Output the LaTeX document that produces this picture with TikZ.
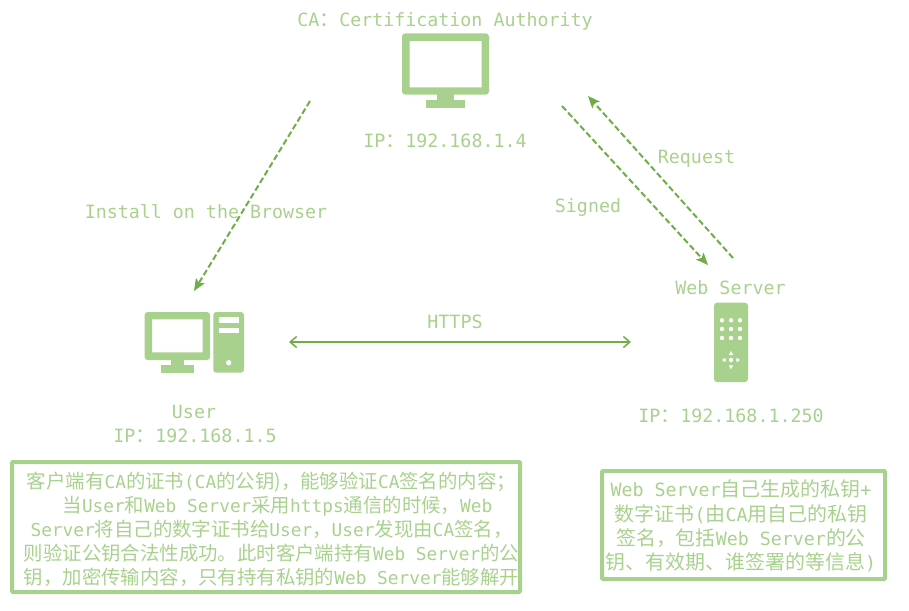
\documentclass[tikz,border=0pt]{standalone}
\usepackage{fontspec}
\usetikzlibrary{arrows.meta}
\setmainfont{DejaVu Sans Mono}
\newfontfamily\cjkfam[Scale=1.09]{Noto Sans CJK SC}
\newcommand{\cn}[1]{{\cjkfam #1}}
\definecolor{lightg}{HTML}{A9D18E}
\definecolor{darkg}{HTML}{70AD47}
\tikzset{
  lbl/.style={text=lightg,inner sep=0pt,font=\fontsize{18.3}{22}\selectfont},
  infobox/.style={draw=lightg,line width=4pt,rounded corners=1pt},
  infotext/.style={text=lightg,inner sep=0pt,align=center},
  dashlink/.style={draw=darkg,line width=2pt,dash pattern=on 6pt off 3pt,-{Stealth[length=12pt,width=10pt,inset=2.5pt]}},
  solidlink/.style={draw=darkg,line width=1.5pt,{Straight Barb[length=6.5pt,width=11pt]}-{Straight Barb[length=6.5pt,width=11pt]}},
  icon/.style={fill=lightg,draw=none},
  hole/.style={fill=white,draw=none}
}
\begin{document}
\begin{tikzpicture}[x=1pt,y=-1pt]
\useasboundingbox (0,0) rectangle (909,610);
% CA monitor
\fill[icon,even odd rule,rounded corners=3pt] (402,33.5) rectangle (489,94.5) [sharp corners] (409.5,41) rectangle (481.5,87.3);
\fill[icon] (436.7,94) rectangle (454,100.5);
\fill[icon] (425.7,100) rectangle (465.3,107.7);
% User monitor
\fill[icon,even odd rule,rounded corners=3pt] (144.7,312) rectangle (210,360) [sharp corners] (152,319.3) rectangle (202.7,352.3);
\fill[icon] (170.7,359.5) rectangle (184,366);
\fill[icon] (160.7,365.3) rectangle (194,372.7);
% User tower
\fill[icon,rounded corners=3pt] (213.3,312) rectangle (244,372.7);
\fill[hole] (218.7,317.3) rectangle (239,322.7);
\fill[hole] (218.7,327.7) rectangle (239,333.3);
\fill[hole] (228.7,362.7) circle (2.7pt);
% Server
\fill[icon,rounded corners=3pt] (714,302.7) rectangle (748,382);
\foreach \dx in {722,731,740}{\foreach \dy in {320.3,329,338}{\fill[hole] (\dx,\dy) circle (2.2pt);}}
\fill[hole] (731,360) circle (2.2pt);
\fill[hole] (731,351) -- (733.2,355) -- (728.8,355) -- cycle;
\fill[hole] (731,369.3) -- (733.2,365.3) -- (728.8,365.3) -- cycle;
\fill[hole] (721.7,360) -- (725.7,357.8) -- (725.7,362.2) -- cycle;
\fill[hole] (740.3,360) -- (736.3,357.8) -- (736.3,362.2) -- cycle;
% Labels
\node[lbl] (caname) at (445,21.5) {CA\cn{：}Certification Authority};
\node[lbl] (caip) at (445,140.5) {IP\cn{：}192.168.1.4};
\node[lbl] (userip) at (195,436) {IP\cn{：}192.168.1.5};
\node[lbl] (username) at (194,412) {User};
\node[lbl] (webname) at (730.5,287.5) {Web Server};
\node[lbl] (webip) at (731,416) {IP\cn{：}192.168.1.250};
\node[lbl] (install) at (206,211.5) {Install on the Browser};
\node[lbl] (signed) at (588,207.5) {Signed};
\node[lbl] (request) at (696.5,158.5) {Request};
\node[lbl] (https) at (455,322) {HTTPS};
% Boxes
\node[infobox,minimum width=508pt,minimum height=130pt] (clientbox) at (266,527) {};
\node[infotext,font=\fontsize{17.8}{24}\selectfont] (clienttext) at (271.5,529.5) {%
\cn{客户端有}CA\cn{的证书}(CA\cn{的公钥}\cn{)，能够验证}CA\cn{签名的内容；}\\
\hspace*{12pt}\cn{当}User\cn{和}Web Server\cn{采用}https\cn{通信的时候，}Web\\
Server\cn{将自己的数字证书给}User\cn{，}User\cn{发现由}CA\cn{签名，}\\
\cn{则验证公钥合法性成功。此时客户端持有}Web Server\cn{的公}\\
\cn{钥，加密传输内容，只有持有私钥的}Web Server\cn{能够解开}};
\node[infobox,minimum width=283pt,minimum height=108pt] (serverbox) at (743.5,525) {};
\node[infotext,font=\fontsize{18.3}{24.3}\selectfont] (servertext) at (741,526) {%
Web Server\cn{自己生成的私钥}+\\
\cn{数字证书}(\cn{由}CA\cn{用自己的私钥}\\
\cn{签名，包括}Web Server\cn{的公}\\
\cn{钥、有效期、谁签署的等信息})};
% Connector ends
\coordinate (caLeft) at (310,101);
\coordinate (userTop) at (194,291);
\coordinate (caRightA) at (562,106);
\coordinate (webTopA) at (708,265);
\coordinate (webTopB) at (733,258);
\coordinate (caRightB) at (588,96);
\coordinate (userRight) at (289,342);
\coordinate (webLeft) at (631,342);
\draw[dashlink] (caLeft) -- (userTop);
\draw[dashlink] (caRightA) -- (webTopA);
\draw[dashlink] (webTopB) -- (caRightB);
\draw[solidlink] (userRight) -- (webLeft);
\end{tikzpicture}
\end{document}
